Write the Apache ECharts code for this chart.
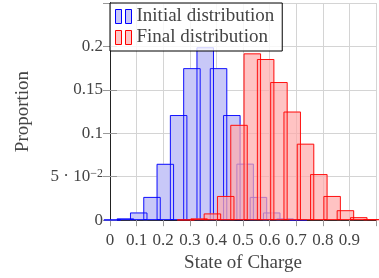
<!DOCTYPE html>
<html>
<head>
<meta charset="utf-8">
<script src="https://cdn.jsdelivr.net/npm/echarts@6/dist/echarts.min.js"></script>
<style>
  html, body { margin: 0; padding: 0; background: #fff; }
  #chart { width: 379px; height: 278px; }
</style>
</head>
<body>
<div id="chart"></div>
<script>
// bin centres and proportions
var initialBins = [0.008, 0.058, 0.108, 0.158, 0.208, 0.258, 0.308, 0.358, 0.408, 0.458, 0.508, 0.558, 0.608, 0.658, 0.708];
var initialProp = [0.0004, 0.002, 0.0088, 0.0267, 0.0648, 0.121, 0.175, 0.199, 0.175, 0.121, 0.065, 0.0267, 0.0088, 0.002, 0.0004];
var finalBins = [0.285, 0.335, 0.385, 0.435, 0.485, 0.535, 0.585, 0.635, 0.685, 0.735, 0.785, 0.835, 0.885, 0.935, 0.985];
var finalProp = [0.0005, 0.002, 0.0077, 0.0278, 0.1097, 0.192, 0.1855, 0.159, 0.125, 0.088, 0.053, 0.0278, 0.0114, 0.0034, 0.001];

var xTickLabels = ['0', '0.1', '0.2', '0.3', '0.4', '0.5', '0.6', '0.7', '0.8', '0.9', ''];
var yTickLabels = ['0', '{a|5 · 10}{s|−2}', '0.1', '0.15', '0.2', ''];

var FONT = 'Liberation Serif';
var BAR_W = 17.5;

function pairs(xs, ys) {
  return xs.map(function (x, i) { return [x, ys[i]]; });
}

var chart = echarts.init(document.getElementById('chart'));

var option = {
  animation: false,
  textStyle: { fontFamily: FONT },
  grid: { left: 110, right: 2, top: 3, bottom: 57 },
  legend: {
    left: 110, top: 3,
    orient: 'vertical',
    backgroundColor: 'rgba(255,255,255,0.8)',
    borderColor: '#000', borderWidth: 1, borderRadius: 0,
    padding: [4, 8, 4, 5],
    itemGap: 2, itemWidth: 16, itemHeight: 14,
    icon: 'path://M0,0H6V14H0Z M10,0H16V14H10Z',
    textStyle: { fontFamily: FONT, fontSize: 19, lineHeight: 19, color: '#444' },
    data: [
      { name: 'Initial distribution', itemStyle: { color: '#c8c8f8', borderColor: '#0000ff', borderWidth: 1 } },
      { name: 'Final distribution', itemStyle: { color: '#ffc6c6', borderColor: '#ff0000', borderWidth: 1 } }
    ]
  },
  xAxis: [{
    type: 'value', min: 0, max: 1, interval: 0.1,
    name: 'State of Charge', nameLocation: 'middle', nameGap: 33,
    nameTextStyle: { fontFamily: FONT, fontSize: 19, color: '#444' },
    axisLine: { show: true, lineStyle: { color: '#222', width: 1 } },
    axisTick: { show: true, inside: false, length: 6, lineStyle: { color: '#999' } },
    axisLabel: {
      margin: 12, fontFamily: FONT, fontSize: 17, color: '#444',
      formatter: function (v) { return xTickLabels[Math.round(v * 10)]; }
    },
    splitLine: { show: true, lineStyle: { color: '#d4d4d4', width: 1 } }
  }, {
    type: 'value', min: 0, max: 1, interval: 0.1, position: 'top',
    axisLine: { show: true, lineStyle: { color: '#222', width: 1 } },
    axisTick: { show: true, inside: true, length: 6, lineStyle: { color: '#999' } },
    axisLabel: { show: false }, splitLine: { show: false }
  }],
  yAxis: [{
    type: 'value', min: 0, max: 0.25, interval: 0.05,
    name: 'Proportion', nameLocation: 'middle', nameGap: 77, nameRotate: 90,
    nameTextStyle: { fontFamily: FONT, fontSize: 19, color: '#444' },
    axisLine: { show: true, lineStyle: { color: '#222', width: 1 } },
    axisTick: { show: true, inside: true, length: 7, lineStyle: { color: '#999' } },
    axisLabel: {
      margin: 7, fontFamily: FONT, fontSize: 17, color: '#444',
      formatter: function (v) { return yTickLabels[Math.round(v / 0.05)]; },
      rich: {
        a: { fontFamily: FONT, fontSize: 17, color: '#444' },
        s: { fontFamily: FONT, fontSize: 12, color: '#444', verticalAlign: 'top', padding: [0, 0, 6, 0] }
      }
    },
    splitLine: { show: true, lineStyle: { color: '#d4d4d4', width: 1 } }
  }, {
    type: 'value', min: 0, max: 0.25, interval: 0.05, position: 'right',
    axisLine: { show: true, lineStyle: { color: '#222', width: 1 } },
    axisTick: { show: true, inside: true, length: 7, lineStyle: { color: '#999' } },
    axisLabel: { show: false }, splitLine: { show: false }
  }],
  series: [
    {
      name: 'Initial distribution', type: 'bar', barWidth: BAR_W, barGap: '-100%', z: 2,
      itemStyle: { color: '#c8c8f8', borderWidth: 0 },
      data: pairs(initialBins, initialProp)
    },
    {
      name: 'Initial distribution', type: 'bar', barWidth: BAR_W, barGap: '-100%', z: 3,
      itemStyle: { color: 'rgba(0,0,0,0)', borderColor: 'rgba(0,0,255,0.9)', borderWidth: 1 },
      data: pairs(initialBins, initialProp)
    },
    {
      name: 'Final distribution', type: 'bar', barWidth: BAR_W, barGap: '-100%', z: 4,
      itemStyle: { color: 'rgba(255,170,170,0.7)', borderWidth: 0 },
      data: pairs(finalBins, finalProp)
    },
    {
      name: 'Final distribution', type: 'bar', barWidth: BAR_W, barGap: '-100%', z: 5,
      itemStyle: { color: 'rgba(0,0,0,0)', borderColor: 'rgba(255,0,0,0.9)', borderWidth: 1 },
      data: pairs(finalBins, finalProp)
    }
  ]
};

chart.setOption(option);
</script>
</body>
</html>
